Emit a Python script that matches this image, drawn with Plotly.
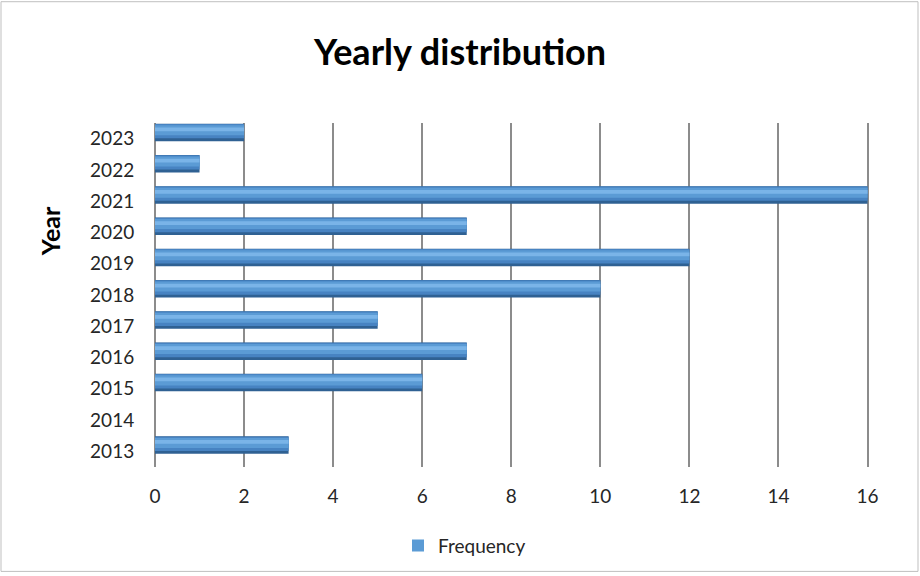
import plotly.graph_objects as go

years = ["2013", "2014", "2015", "2016", "2017", "2018", "2019", "2020", "2021", "2022", "2023"]
frequency = [3, 0, 6, 7, 5, 10, 12, 7, 16, 1, 2]
x_ticks = [0, 2, 4, 6, 8, 10, 12, 14, 16]

FONT = "Lato"
W, H = 920, 576
ml, mr, mt, mb = 155, 40, 123, 107
pw, ph = W - ml - mr, H - mt - mb

fig = go.Figure()

# cylinder-like bars built from stacked overlay layers
layers = [
    # (color, width, offset, showlegend)
    ("#2f6193", 0.56, -0.08, False),
    ("#4783c2", 0.46, 0.01, False),
    ("#5b9bd5", 0.32, 0.11, True),
    ("#7ab4e8", 0.12, 0.24, False),
]
for color, width, offset, show in layers:
    fig.add_trace(go.Bar(
        y=years, x=frequency, orientation="h",
        marker=dict(color=color, line=dict(width=0)),
        width=width, offset=offset,
        name="Frequency", showlegend=show,
        hoverinfo="x+y",
    ))

fig.update_layout(
    width=W, height=H,
    margin=dict(l=ml, r=mr, t=mt, b=mb),
    paper_bgcolor="white", plot_bgcolor="white",
    barmode="overlay",
    font=dict(family=FONT, size=19, color="#262626"),
    title=dict(text="<b>Yearly distribution</b>", x=0.5, xanchor="center",
               y=1 - 52 / H, yanchor="middle",
               font=dict(family=FONT, size=36, color="black")),
    xaxis=dict(range=[0, 16.28], tickvals=x_ticks, showgrid=True,
               gridcolor="#8c8c8c", gridwidth=1.5, zeroline=True,
               zerolinecolor="#8c8c8c", zerolinewidth=1.5,
               showline=False, ticks="outside", ticklen=0,
               ticklabelstandoff=12, tickfont=dict(size=19, color="#262626"),
               fixedrange=True),
    yaxis=dict(type="category", categoryorder="array", categoryarray=years,
               range=[-0.5, 10.5], showgrid=False, showline=False,
               ticks="outside", ticklen=0, ticklabelstandoff=16,
               tickfont=dict(size=19, color="#262626")),
    legend=dict(orientation="h", x=(398 - ml) / pw, xanchor="left",
                y=-(548 - (H - mb)) / ph, yanchor="middle",
                itemwidth=30,
                font=dict(size=19, color="#262626")),
    bargap=0.3,
)

# y axis title placed like the reference
fig.add_annotation(text="<b>Year</b>", xref="paper", yref="paper",
                   x=-(ml - 50) / pw, y=1 - (232 - mt) / ph,
                   xanchor="center", yanchor="middle", textangle=-90,
                   showarrow=False, font=dict(family=FONT, size=25, color="black"))

# outer chart border
fig.add_shape(type="rect", xref="paper", yref="paper",
              x0=(1 - ml) / pw, x1=(W - 2 - ml) / pw,
              y0=-(mb - 2) / ph, y1=1 + (mt - 1) / ph,
              line=dict(color="#bfbfbf", width=1), layer="below")

fig.write_html("out.html")
